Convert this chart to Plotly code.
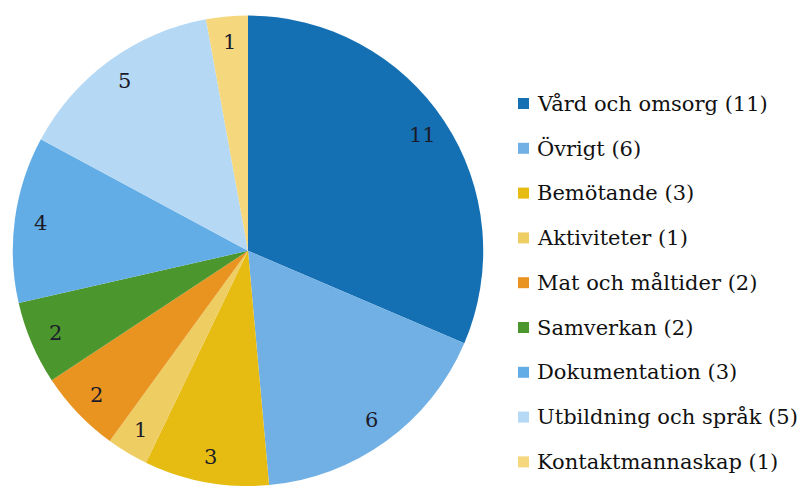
import math
import plotly.graph_objects as go

# Complaint categories, slice counts and legend counts
categories = [
    "Vård och omsorg", "Övrigt", "Bemötande", "Aktiviteter",
    "Mat och måltider", "Samverkan", "Dokumentation",
    "Utbildning och språk", "Kontaktmannaskap",
]
slice_values = [11, 6, 3, 1, 2, 2, 4, 5, 1]
legend_counts = [11, 6, 3, 1, 2, 2, 3, 5, 1]
colors = [
    "#1570b3", "#70b0e4", "#e6bb12", "#eecd62", "#e99320",
    "#4c962e", "#63ade6", "#b5d8f4", "#f5d77e",
]

W, H = 801, 486
FONT = "DejaVu Serif"

# Pie geometry (pixels) derived from the domain
y_dom = [0.0, 0.968]
R = (y_dom[1] - y_dom[0]) * H / 2
CY = H - (y_dom[0] + y_dom[1]) / 2 * H
CX = 248
x_dom = [(CX - R) / W, (CX + R) / W]

fig = go.Figure(go.Pie(
    labels=categories,
    values=slice_values,
    marker=dict(colors=colors, line=dict(width=0)),
    sort=False,
    direction="clockwise",
    rotation=0,
    textinfo="none",
    domain=dict(x=x_dom, y=y_dom),
    showlegend=False,
))

# Value labels placed along each slice's bisector
total = sum(slice_values)
cum = 0
annotations = []
for v in slice_values:
    theta = 2 * math.pi * (cum + v / 2) / total
    cum += v
    px = CX + 0.89 * R * math.sin(theta)
    py = CY - 0.89 * R * math.cos(theta)
    annotations.append(dict(
        x=px / W, y=1 - py / H, xref="paper", yref="paper",
        text=str(v), showarrow=False, xanchor="center", yanchor="middle",
        font=dict(family=FONT, size=21, color="#1b1b2a"),
    ))

# Legend: colour square followed by label text
shapes = []
row0, step = 103.5, 44.8
for i, (name, n, c) in enumerate(zip(categories, legend_counts, colors)):
    yc = row0 + i * step
    shapes.append(dict(
        type="rect", xref="paper", yref="paper",
        x0=518 / W, x1=529 / W, y0=1 - (yc + 5.5) / H, y1=1 - (yc - 5.5) / H,
        fillcolor=c, line=dict(width=0),
    ))
    annotations.append(dict(
        x=535 / W, y=1 - yc / H, xref="paper", yref="paper",
        text=f"{name} ({n})", showarrow=False, xanchor="left", yanchor="middle",
        font=dict(family=FONT, size=21, color="#111111"),
    ))

fig.update_layout(
    width=W, height=H,
    margin=dict(l=0, r=0, t=0, b=0),
    paper_bgcolor="white", plot_bgcolor="white",
    annotations=annotations, shapes=shapes,
)

fig.write_html("out.html")
